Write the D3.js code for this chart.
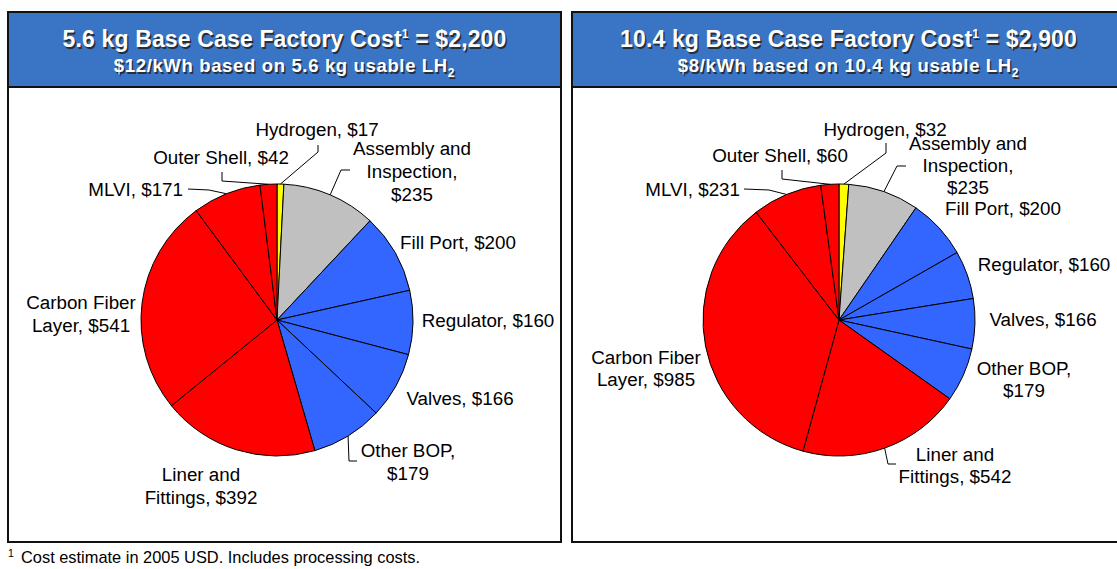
<!DOCTYPE html>
<html><head><meta charset="utf-8">
<script src="https://cdn.jsdelivr.net/npm/d3@7"></script>
<style>
html,body{margin:0;padding:0;background:#fff;}
svg{display:block;font-family:"Liberation Sans",Arial,sans-serif;}
</style></head>
<body>
<svg id="chart" width="1117" height="569"></svg>
<script>
// ---------- DATA ----------
const categories = ["Hydrogen","Assembly and Inspection","Fill Port","Regulator","Valves","Other BOP","Liner and Fittings","Carbon Fiber Layer","MLVI","Outer Shell"];
const leftValues  = [17,235,200,160,166,179,392,541,171,42];
const rightValues = [32,235,200,160,166,179,542,985,231,60];
const leftTitle = ["5.6 kg Base Case Factory Cost", "1", " = $2,200"];
const leftSub   = ["$12/kWh based on 5.6 kg usable LH", "2"];
const rightTitle = ["10.4 kg Base Case Factory Cost", "1", " = $2,900"];
const rightSub   = ["$8/kWh based on 10.4 kg usable LH", "2"];
const footnote = "Cost estimate in 2005 USD. Includes processing costs.";

// ---------- STYLE / LAYOUT ----------
const sliceColors = ["#FFFF00","#C0C0C0","#3366FF","#3366FF","#3366FF","#3366FF","#FF0000","#FF0000","#FF0000","#FF0000"];
const headerBlue = "#3A75C5";
const R = 136;
const LABEL_FS = 18.8;

function labelLines(name, v){
  const s = "$" + v;
  switch(name){
    case "Assembly and Inspection": return ["Assembly and","Inspection,", s];
    case "Other BOP": return ["Other BOP,", s];
    case "Liner and Fittings": return ["Liner and","Fittings, " + s];
    case "Carbon Fiber Layer": return ["Carbon Fiber","Layer, " + s];
    default: return [name + ", " + s];
  }
}

// label layout relative to pie centre
const leftLayout = {
  "Hydrogen": {x:40, y:-191, a:"middle", lead:[[41,-168],[41,-175]]},
  "Assembly and Inspection": {x:135, y:-172, a:"middle", lead:[[64,-150],[73,-150]]},
  "Fill Port": {x:181, y:-78, a:"middle"},
  "Regulator": {x:211, y:0, a:"middle"},
  "Valves": {x:183, y:78, a:"middle"},
  "Other BOP": {x:131, y:130, a:"middle", lead:[[72,141],[80,141]]},
  "Liner and Fittings": {x:-76, y:154, a:"middle"},
  "Carbon Fiber Layer": {x:-196, y:-18, a:"middle"},
  "MLVI": {x:-94, y:-131, a:"end", lead:[[-68,-130],[-89,-131]]},
  "Outer Shell": {x:-56, y:-163, a:"middle", lead:[[-55,-139],[-55,-148]]}
};
const rightLayout = {
  "Hydrogen": {x:46, y:-191, a:"middle", lead:[[47,-167],[47,-177]]},
  "Assembly and Inspection": {x:129, y:-177, a:"middle", lh:22, lead:[[58,-154],[67,-154]]},
  "Fill Port": {x:164, y:-112, a:"middle"},
  "Regulator": {x:205, y:-56, a:"middle"},
  "Valves": {x:204, y:-1, a:"middle"},
  "Other BOP": {x:185, y:48, a:"middle", lh:22},
  "Liner and Fittings": {x:116, y:134, a:"middle", lh:22, lead:[[49,144],[57,144]]},
  "Carbon Fiber Layer": {x:-193, y:37, a:"middle", lh:22},
  "MLVI": {x:-99, y:-131, a:"end", lead:[[-70,-130],[-95,-131]]},
  "Outer Shell": {x:-59, y:-165, a:"middle", lead:[[-57,-141],[-57,-150]]}
};

const svg = d3.select("#chart");

function panel(x0, w, pieShift, title, sub, values, layout){
  const g = svg.append("g");
  const top = 12, hdrH = 75, bottom = 542;
  g.append("rect").attr("x",x0).attr("y",top).attr("width",w).attr("height",bottom-top)
    .attr("fill","#fff").attr("stroke","#111").attr("stroke-width",2);
  g.append("rect").attr("x",x0).attr("y",top).attr("width",w).attr("height",hdrH)
    .attr("fill",headerBlue).attr("stroke","#111").attr("stroke-width",2);
  const cx = x0 + w/2;
  [[1.5,"#222"],[0,"#fff"]].forEach(([off,fill])=>{
    const t = g.append("text").attr("x",cx+off).attr("y",47+off).attr("text-anchor","middle")
      .attr("font-weight","bold").attr("font-size",23).attr("letter-spacing",0.15).attr("fill",fill)
      .attr("opacity", off ? 0.85 : 1);
    t.append("tspan").text(title[0]);
    t.append("tspan").attr("font-size",12).attr("dy",-9).text(title[1]);
    t.append("tspan").attr("dy",9).text(title[2]);
    const s = g.append("text").attr("x",cx+off).attr("y",72+off).attr("text-anchor","middle")
      .attr("font-weight","bold").attr("font-size",18.5).attr("letter-spacing",0.65).attr("fill",fill)
      .attr("opacity", off ? 0.85 : 1);
    s.append("tspan").text(sub[0]);
    s.append("tspan").attr("font-size",12).attr("dy",5).text(sub[1]);
  });

  const pcx = cx + pieShift, pcy = 320;
  const pie = d3.pie().sort(null).value(d=>d.v)(values.map((v,i)=>({name:categories[i], v, c:sliceColors[i]})));
  const arc = d3.arc().innerRadius(0).outerRadius(R);
  const edge = d3.arc().innerRadius(R).outerRadius(R);
  const pg = g.append("g").attr("transform",`translate(${pcx},${pcy})`);
  pg.selectAll("path.slice").data(pie).join("path").attr("class","slice")
    .attr("d",arc).attr("fill",d=>d.data.c).attr("stroke","#000").attr("stroke-width",1);

  pie.forEach(d=>{
    const L = layout[d.data.name];
    const lines = labelLines(d.data.name, d.data.v);
    const lh = L.lh || 23;
    const t = pg.append("text").attr("text-anchor",L.a).attr("font-size",LABEL_FS).attr("fill","#000");
    lines.forEach((ln,i)=>{
      t.append("tspan").attr("x",L.x).attr("y",L.y + i*lh).attr("dy","0.35em").text(ln);
    });
    if(L.lead){
      const p0 = edge.centroid(d);
      const pts = [p0].concat(L.lead);
      pg.append("path").attr("d", d3.line()(pts)).attr("fill","none")
        .attr("stroke","#000").attr("stroke-width",1);
    }
  });
}

panel(8, 553, -7.5, leftTitle, leftSub, leftValues, leftLayout);
panel(572, 553, -9.5, rightTitle, rightSub, rightValues, rightLayout);

const fn = svg.append("text").attr("x",8).attr("y",563).attr("font-size",16.4).attr("fill","#000");
fn.append("tspan").attr("font-size",10.5).attr("dy",-6).text("1");
fn.append("tspan").attr("x",21).attr("dy",6).text(footnote);
</script>
</body></html>
